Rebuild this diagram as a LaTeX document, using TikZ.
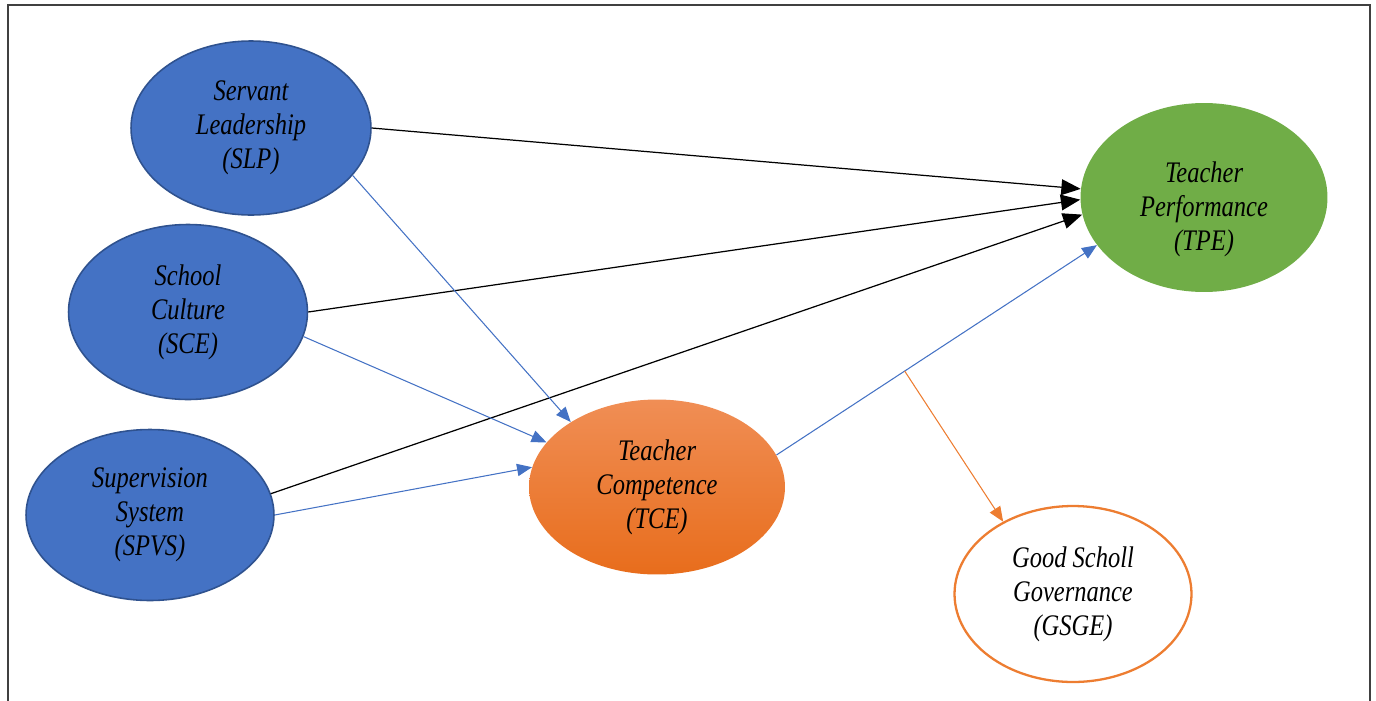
\documentclass[tikz,border=0pt]{standalone}
\usepackage{fontspec}
\setmainfont{Liberation Serif}[FakeStretch=0.82]
\usepackage{tikz}
\usetikzlibrary{arrows.meta,shapes.geometric}

\definecolor{varblue}{HTML}{4472C4}
\definecolor{varedge}{HTML}{2F528F}
\definecolor{vargreen}{HTML}{70AD47}
\definecolor{tcetop}{HTML}{F08E55}
\definecolor{tcebot}{HTML}{E86D1C}
\definecolor{varorange}{HTML}{ED7D31}

\begin{document}
\begin{tikzpicture}[
  x=0.02cm, y=-0.02cm,
  every node/.style={inner sep=0pt, align=center, font=\fontsize{17}{19.3}\selectfont\itshape},
  ind/.style={ellipse, draw=varedge, line width=0.9pt, fill=varblue},
  med/.style={ellipse, top color=tcetop, bottom color=tcebot},
  dep/.style={ellipse, fill=vargreen},
  mod/.style={ellipse, draw=varorange, line width=1.3pt, fill=white},
  direct/.style={-{Triangle[length=11pt, width=9pt]}, line width=0.7pt},
  viamed/.style={-{Triangle[length=8.5pt, width=7pt]}, varblue, line width=0.6pt},
  moder/.style={-{Triangle[length=8.5pt, width=7pt]}, varorange, line width=0.6pt}
]
\useasboundingbox (0,0) rectangle (1376,700);
\draw[line width=0.9pt, black!75] (8,710) -- (8,5) -- (1370,5) -- (1370,710);

% left-hand variables
\node[ind, minimum width=4.8cm, minimum height=3.48cm] (slp) at (251,128) {Servant\\Leadership\\(SLP)};
\node[ind, minimum width=4.78cm, minimum height=3.5cm] (sce) at (188,312) {School\\Culture\\(SCE)};
\node[ind, minimum width=4.96cm, minimum height=3.42cm] (spvs) at (150,515) {Supervision\\System\\(SPVS)};

% mediator, outcome and moderator
\node[med, minimum width=5.12cm, minimum height=3.5cm] (tce) at (657,487) {Teacher\\Competence\\(TCE)};
\node[dep, minimum width=4.94cm, minimum height=3.78cm] (tpe) at (1204,197.5) {};
\node (tpetext) at (1204,209) {Teacher\\Performance\\(TPE)};
\node[mod, minimum width=4.74cm, minimum height=3.52cm] (gsge) at (1073,594) {Good Scholl\\Governance\\(GSGE)};

% direct paths
\draw[direct] (slp.east) -- (tpe.176);
\draw[direct] (sce.east) -- (tpe.181);
\draw[direct] (spvs.10) -- (tpe.188);

% paths through TCE
\draw[viamed] (slp.335) -- (tce.143);
\draw[viamed] (sce.348) -- (tce.158);
\draw[viamed] (spvs.east) -- (tce.171);
\draw[viamed] (tce.15) -- coordinate[pos=0.4] (split) (tpe.204);

% moderation
\draw[moder] (split) -- (gsge.134);
\end{tikzpicture}
\end{document}
